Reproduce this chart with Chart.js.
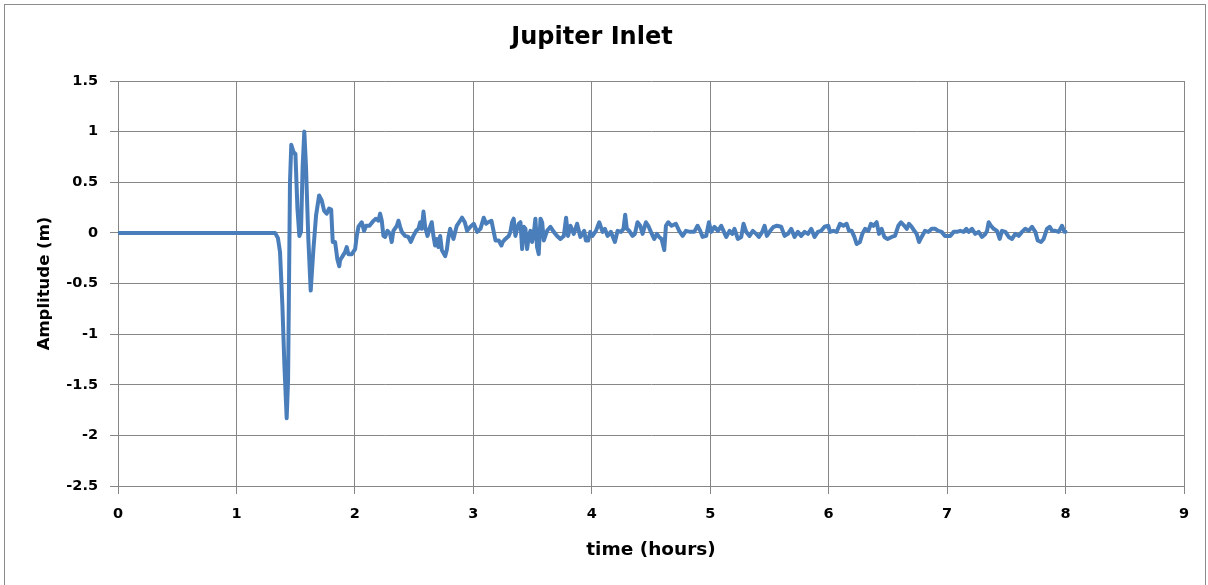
<!DOCTYPE html>
<html><head><meta charset="utf-8">
<script src="https://cdn.jsdelivr.net/npm/chart.js@4.4.1/dist/chart.umd.min.js"></script>
<style>
html,body{margin:0;padding:0;background:#fff;}
#wrap{position:relative;width:1208px;height:585px;overflow:hidden;}
#frame{position:absolute;left:4px;top:4px;width:1200px;height:640px;border:1px solid #8c8c8c;pointer-events:none;}
canvas{position:absolute;left:0;top:0;}
</style>
</head><body>
<div id="wrap"><canvas id="c" width="1208" height="585"></canvas><div id="frame"></div></div>
<script>
const chartTitle = 'Jupiter Inlet';
const xTitle = 'time (hours)';
const yTitle = 'Amplitude (m)';

// time (hours)
const timeHours = [
  0, 1.326, 1.35, 1.368, 1.388, 1.405, 1.424, 1.436, 1.452, 1.463, 1.481, 1.498, 1.515, 1.531, 1.545, 1.559,
  1.573, 1.587, 1.607, 1.627, 1.65, 1.672, 1.698, 1.72, 1.74, 1.762, 1.782, 1.80, 1.813, 1.833, 1.852, 1.868,
  1.875, 1.917, 1.931, 1.945, 1.974, 2.002, 2.016, 2.030, 2.058, 2.078, 2.095, 2.123, 2.157, 2.179, 2.199, 2.213,
  2.227, 2.241, 2.255, 2.275, 2.297, 2.311, 2.325, 2.354, 2.368, 2.382, 2.396, 2.424, 2.452, 2.472, 2.494, 2.517,
  2.537, 2.551, 2.565, 2.579, 2.593, 2.613, 2.635, 2.649, 2.663, 2.677, 2.691, 2.705, 2.720, 2.734, 2.762, 2.776,
  2.790, 2.804, 2.818, 2.832, 2.860, 2.888,
  2.905, 2.928, 2.947, 2.975, 3.004, 3.032, 3.060, 3.088, 3.108, 3.125, 3.153, 3.172, 3.187, 3.215, 3.237, 3.248,
  3.271, 3.299, 3.313, 3.327, 3.341, 3.355, 3.370, 3.384, 3.398, 3.412, 3.426, 3.440, 3.454, 3.468, 3.482, 3.496,
  3.510, 3.524, 3.538, 3.552, 3.567, 3.581, 3.595, 3.623, 3.651, 3.679, 3.707, 3.735, 3.764, 3.783, 3.800, 3.820,
  3.848, 3.876, 3.904,
  3.936, 3.950, 3.970, 3.987, 4.006, 4.035, 4.063, 4.091, 4.111, 4.133, 4.161, 4.195, 4.218, 4.246, 4.268, 4.282,
  4.296, 4.316, 4.344, 4.364, 4.386, 4.409, 4.429, 4.457, 4.477, 4.499, 4.527, 4.550, 4.569, 4.589, 4.612, 4.626,
  4.645, 4.674, 4.710, 4.738, 4.767, 4.795, 4.831, 4.865, 4.893, 4.916, 4.935,
  4.966, 4.989, 5.008, 5.036, 5.065, 5.093, 5.112, 5.135, 5.163, 5.186, 5.205, 5.233, 5.262, 5.281, 5.304, 5.332,
  5.360, 5.388, 5.411, 5.439, 5.459, 5.478, 5.507, 5.535, 5.563, 5.599, 5.628, 5.656, 5.684, 5.712, 5.740, 5.768,
  5.797, 5.825, 5.853, 5.881, 5.909, 5.937, 5.965,
  5.997, 6.011, 6.039, 6.067, 6.096, 6.124, 6.152, 6.172, 6.194, 6.217, 6.236, 6.264, 6.284, 6.307, 6.335, 6.357,
  6.377, 6.405, 6.425, 6.447, 6.470, 6.498, 6.532, 6.560, 6.588, 6.611, 6.639, 6.659, 6.678, 6.701, 6.723, 6.743,
  6.763, 6.785, 6.813, 6.842, 6.870, 6.898, 6.926, 6.954, 6.982,
  7.027, 7.055, 7.083, 7.111, 7.140, 7.162, 7.182, 7.210, 7.238, 7.266, 7.294, 7.323, 7.337, 7.351, 7.370, 7.393,
  7.421, 7.444, 7.463, 7.492, 7.520, 7.548, 7.576, 7.604, 7.632, 7.660, 7.689, 7.717, 7.745, 7.765, 7.793, 7.815,
  7.843, 7.866, 7.886, 7.914, 7.942, 7.970, 7.990, 8.0
];

// amplitude (m)
const amplitudeM = [
  0, 0, -0.05, -0.19, -0.72, -1.31, -1.83, -1.45, 0.5, 0.87, 0.80, 0.78, 0.24, -0.03, 0.01, 0.66,
  1.0, 0.66, -0.06, -0.57, -0.16, 0.17, 0.37, 0.32, 0.22, 0.19, 0.24, 0.23, -0.09, -0.09, -0.26, -0.33,
  -0.27, -0.19, -0.14, -0.21, -0.21, -0.16, -0.03, 0.06, 0.105, 0.02, 0.07, 0.07, 0.12, 0.14, 0.12, 0.19,
  0.12, -0.03, -0.04, 0.02, -0.01, -0.09, 0.02, 0.07, 0.12, 0.06, 0.01, -0.03, -0.04, -0.09, -0.03, 0.02,
  0.04, 0.105, 0.04, 0.21, 0.06, -0.03, 0.06, 0.105, -0.03, -0.125, -0.06, -0.14, -0.03, -0.17, -0.23, -0.17,
  -0.04, 0.04, -0.01, -0.06, 0.07, 0.12,
  0.15, 0.105, 0.02, 0.06, 0.09, 0.01, 0.04, 0.15, 0.09, 0.105, 0.12, 0.01, -0.075, -0.075, -0.125, -0.09,
  -0.06, -0.03, 0.01, 0.105, 0.14, -0.03, 0.04, 0.09, 0.105, -0.16, 0.06, 0.04, -0.16, -0.03, 0.02, -0.09,
  -0.01, 0.14, -0.14, -0.21, 0.14, 0.105, -0.075, 0.02, 0.06, 0.01, -0.03, -0.06, -0.03, 0.15, -0.03, 0.07,
  -0.01, 0.09, -0.04,
  0.02, -0.075, -0.075, 0.01, -0.03, 0.02, 0.105, 0.01, 0.04, -0.03, 0.01, -0.09, 0.02, 0.01, 0.04, 0.18,
  0.04, 0.02, -0.03, -0.01, 0.105, 0.07, -0.01, 0.105, 0.07, 0.01, -0.06, -0.01, -0.04, -0.06, -0.17, 0.07,
  0.105, 0.07, 0.09, 0.02, -0.03, 0.02, 0.01, 0.01, 0.07, 0.02, -0.04,
  -0.03, 0.105, 0.01, 0.06, 0.02, 0.07, 0.02, -0.04, 0.02, -0.01, 0.04, -0.06, -0.04, 0.09, 0.01, -0.03,
  0.02, -0.01, -0.04, 0.01, 0.07, -0.03, 0.02, 0.06, 0.07, 0.06, -0.03, -0.01, 0.04, -0.04, 0.01, -0.03,
  0.01, -0.01, 0.04, -0.04, 0.01, 0.02, 0.06,
  0.07, 0.01, 0.02, 0.01, 0.09, 0.07, 0.09, 0.02, 0.02, -0.04, -0.11, -0.09, -0.01, 0.04, 0.02, 0.09,
  0.07, 0.105, -0.01, 0.04, -0.04, -0.06, -0.04, -0.03, 0.07, 0.105, 0.07, 0.04, 0.09, 0.06, 0.02, -0.01,
  -0.09, -0.04, 0.02, 0.01, 0.04, 0.04, 0.02, 0.01, -0.03,
  -0.03, 0.01, 0.01, 0.02, 0.01, 0.04, 0.01, 0.04, -0.01, 0.01, -0.04, -0.01, 0.02, 0.105, 0.07, 0.04,
  0.02, -0.06, 0.02, 0.01, -0.04, -0.06, -0.01, -0.03, 0.01, 0.04, 0.02, 0.06, 0.01, -0.075, -0.09, -0.06,
  0.04, 0.06, 0.02, 0.02, 0.01, 0.07, 0.01, 0.01
];

const xTickRange = { min: 0, max: 9, step: 1 };
const yTickRange = { min: -2.5, max: 1.5, step: 0.5 };

const points = timeHours.map((t, i) => ({ x: t, y: amplitudeM[i] }));

const gridGray = '#868686';
const fontFamily = '"DejaVu Sans", sans-serif';

new Chart(document.getElementById('c'), {
  type: 'line',
  data: {
    datasets: [{
      data: points,
      borderColor: '#4A7EBB',
      borderWidth: 4,
      pointRadius: 0,
      tension: 0,
      borderJoinStyle: 'round',
      borderCapStyle: 'round',
      fill: false
    }]
  },
  options: {
    responsive: false,
    animation: false,
    devicePixelRatio: 1,
    layout: { padding: { left: 0, right: 24, top: 0, bottom: 0 } },
    plugins: {
      legend: { display: false },
      tooltip: { enabled: false },
      title: {
        display: true,
        text: chartTitle,
        color: '#000',
        font: { family: fontFamily, size: 24, weight: 'bold' },
        padding: { top: 23.6, bottom: 28.6 }
      }
    },
    scales: {
      x: {
        type: 'linear',
        min: xTickRange.min,
        max: xTickRange.max,
        ticks: {
          stepSize: xTickRange.step,
          padding: 12,
          color: '#000',
          font: { family: fontFamily, size: 14.5, weight: 'bold' },
          callback: v => String(v)
        },
        grid: { color: gridGray, lineWidth: 1, tickLength: 8, drawTicks: true },
        border: { color: gridGray, width: 1 },
        title: {
          display: true,
          text: xTitle,
          color: '#000',
          font: { family: fontFamily, size: 18.5, weight: 'bold' },
          padding: { top: 0, bottom: 24 }
        },
        afterFit: s => { s.height = 99; }
      },
      y: {
        type: 'linear',
        min: yTickRange.min,
        max: yTickRange.max,
        ticks: {
          stepSize: yTickRange.step,
          padding: 12,
          color: '#000',
          font: { family: fontFamily, size: 14.5, weight: 'bold' },
          callback: v => String(+v.toFixed(2))
        },
        grid: { color: gridGray, lineWidth: 1, tickLength: 8, drawTicks: true },
        border: { color: gridGray, width: 1 },
        title: {
          display: true,
          text: yTitle,
          color: '#000',
          font: { family: fontFamily, size: 16.5, weight: 'bold' },
          padding: { top: 35, bottom: 0 }
        },
        afterFit: s => { s.width = 118; }
      }
    }
  }
});
</script>
</body></html>
